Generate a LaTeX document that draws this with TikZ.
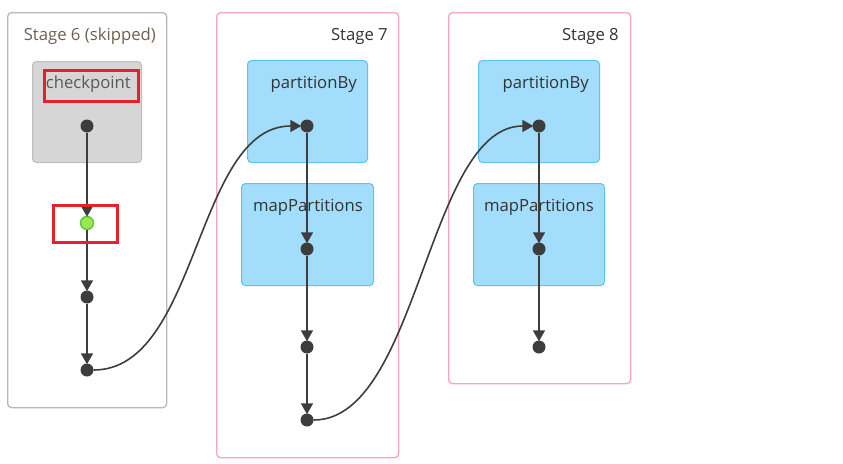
\documentclass[tikz,border=0pt]{standalone}
\usepackage{fontspec}
\setmainfont{Open Sans}
\usepackage{xcolor}
\usetikzlibrary{arrows.meta,positioning}
\definecolor{stagegrey}{HTML}{B8B8B8}
\definecolor{stagepink}{HTML}{F4A7B6}
\definecolor{opfill}{HTML}{A3DDFC}
\definecolor{opline}{HTML}{5CC2F2}
\definecolor{skipfill}{HTML}{D6D6D6}
\definecolor{skipline}{HTML}{BDBDBD}
\definecolor{dotgrey}{HTML}{3D3D3D}
\definecolor{cachefill}{HTML}{9BE84C}
\definecolor{cacheline}{HTML}{62C24A}
\definecolor{markred}{HTML}{E8202A}
\definecolor{skiptext}{HTML}{6E6050}
\tikzset{
  stagebox/.style={
    draw=stagepink,
    line width=1.3pt,
    rounded corners=4pt,
    anchor=north west,
    inner sep=0pt
  },
  skipstage/.style={stagebox, draw=stagegrey},
  opbox/.style={
    draw=opline,
    fill=opfill,
    line width=1pt,
    rounded corners=4pt,
    anchor=north west,
    inner sep=0pt
  },
  skipbox/.style={opbox, draw=skipline, fill=skipfill},
  title/.style={anchor=east, inner sep=0pt, font=\fontsize{16.7}{19}\selectfont, text=black!80},
  oplabel/.style={anchor=east, inner sep=0pt, font=\fontsize{16.7}{19}\selectfont, text=black!80},
  rdd/.style={circle, fill=dotgrey, minimum size=13pt, inner sep=0pt},
  cached/.style={rdd, fill=cachefill, draw=cacheline, line width=1.4pt},
  redmark/.style={draw=markred, line width=2.6pt, anchor=north west, inner sep=0pt},
  flow/.style={-{Triangle[length=11pt, width=12pt]}, draw=dotgrey, line width=1.6pt, shorten >=-1pt}
}
\begin{document}
\begin{tikzpicture}[x=1pt, y=-1pt]
  \useasboundingbox (0,0) rectangle (843,463);

  % stages
  \node[skipstage, minimum width=159pt, minimum height=395pt] (s6) at (7,12) {};
  \node[stagebox, minimum width=182pt, minimum height=445pt] (s7) at (216,12) {};
  \node[stagebox, minimum width=182pt, minimum height=371pt] (s8) at (448,12) {};
  \node[title, text=skiptext] (t6) at (156,36) {Stage 6 (skipped)};
  \node[title] (t7) at (388,36) {Stage 7};
  \node[title] (t8) at (619,36) {Stage 8};

  % operators
  \node[skipbox, minimum width=109pt, minimum height=101pt] (ck) at (32,61) {};
  \node[opbox, minimum width=120pt, minimum height=102pt] (pa) at (247,60) {};
  \node[opbox, minimum width=132pt, minimum height=102pt] (ma) at (241,183) {};
  \node[opbox, minimum width=121pt, minimum height=102pt] (pb) at (478,60) {};
  \node[opbox, minimum width=131pt, minimum height=102pt] (mb) at (473,183) {};
  \node[oplabel, text=black!65] (ckl) at (131,84) {checkpoint};
  \node[oplabel] (pal) at (357,84) {partitionBy};
  \node[oplabel] (mal) at (363,207) {mapPartitions};
  \node[oplabel] (pbl) at (589,84) {partitionBy};
  \node[oplabel] (mbl) at (594,207) {mapPartitions};

  % rdds
  \node[rdd] (r1) at (87,126) {};
  \node[cached] (r2) at (87,223) {};
  \node[rdd] (r3) at (87,297) {};
  \node[rdd] (r4) at (87,370) {};
  \node[rdd] (r5) at (307,126) {};
  \node[rdd] (r6) at (307,249) {};
  \node[rdd] (r7) at (307,347) {};
  \node[rdd] (r8) at (307,420) {};
  \node[rdd] (r9) at (539,126) {};
  \node[rdd] (r10) at (539,249) {};
  \node[rdd] (r11) at (539,347) {};

  \draw[flow] (r1) -- (r2);
  \draw[flow] (r2) -- (r3);
  \draw[flow] (r3) -- (r4);
  \draw[flow] (r4.east) .. controls +(105,0) and +(-105,0) .. (r5.west);
  \draw[flow] (r5) -- (r6);
  \draw[flow] (r6) -- (r7);
  \draw[flow] (r7) -- (r8);
  \draw[flow] (r8.east) .. controls +(105,0) and +(-105,0) .. (r9.west);
  \draw[flow] (r9) -- (r10);
  \draw[flow] (r10) -- (r11);

  % highlights
  \node[redmark, minimum width=94pt, minimum height=31pt] (m1) at (43,69) {};
  \node[redmark, minimum width=64pt, minimum height=37pt] (m2) at (52,204) {};
\end{tikzpicture}
\end{document}
